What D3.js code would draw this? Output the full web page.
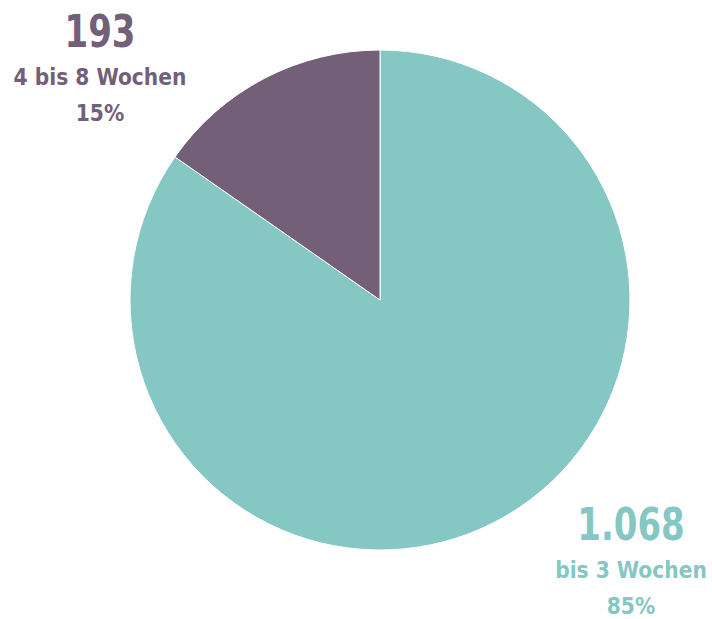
<!DOCTYPE html>
<html lang="de"><head>
<meta charset="UTF-8"><title>Dauer</title>
<script src="https://cdn.jsdelivr.net/npm/d3@7/dist/d3.min.js"></script>
<style>
  body { margin:0; background:#fff; }
  text { font-family: 'DejaVu Sans Condensed', 'DejaVu Sans', sans-serif; font-weight: bold; }
</style>
</head><body>
<svg id="chart" width="712" height="619"></svg>
<script>
// Werte
const categories = ['bis 3 Wochen', '4 bis 8 Wochen'];
const values = [1068, 193];
const valueLabels = ['1.068', '193'];
const percentLabels = ['85%', '15%'];
const colors = ['#84c7c3', '#736078'];

const svg = d3.select('#chart');
const cx = 380, cy = 300, r = 250;

const pie = d3.pie().sort(null).value(d => d);
const arc = d3.arc().innerRadius(0).outerRadius(r);

const g = svg.append('g').attr('transform', `translate(${cx},${cy})`);
g.selectAll('path').data(pie(values)).join('path')
  .attr('d', arc)
  .attr('fill', (d, i) => colors[i])
  .attr('stroke', '#fff')
  .attr('stroke-width', 1);

// Beschriftungen
const labelPos = [
  { x: 631, y: [540, 578, 614] },
  { x: 100, y: [47, 85, 121] }
];
categories.forEach((c, i) => {
  const p = labelPos[i];
  const t = svg.append('g').attr('fill', colors[i]).attr('text-anchor', 'middle');
  // Zahl etwas schmaler laufen lassen
  t.append('g').attr('transform', `translate(${p.x},${p.y[0]}) scale(0.84,1)`)
    .append('text').attr('font-size', 45).text(valueLabels[i]);
  t.append('text').attr('x', p.x).attr('y', p.y[1]).attr('font-size', 22.5).text(c);
  t.append('text').attr('x', p.x).attr('y', p.y[2]).attr('font-size', 22.5).text(percentLabels[i]);
});
</script>
</body></html>
